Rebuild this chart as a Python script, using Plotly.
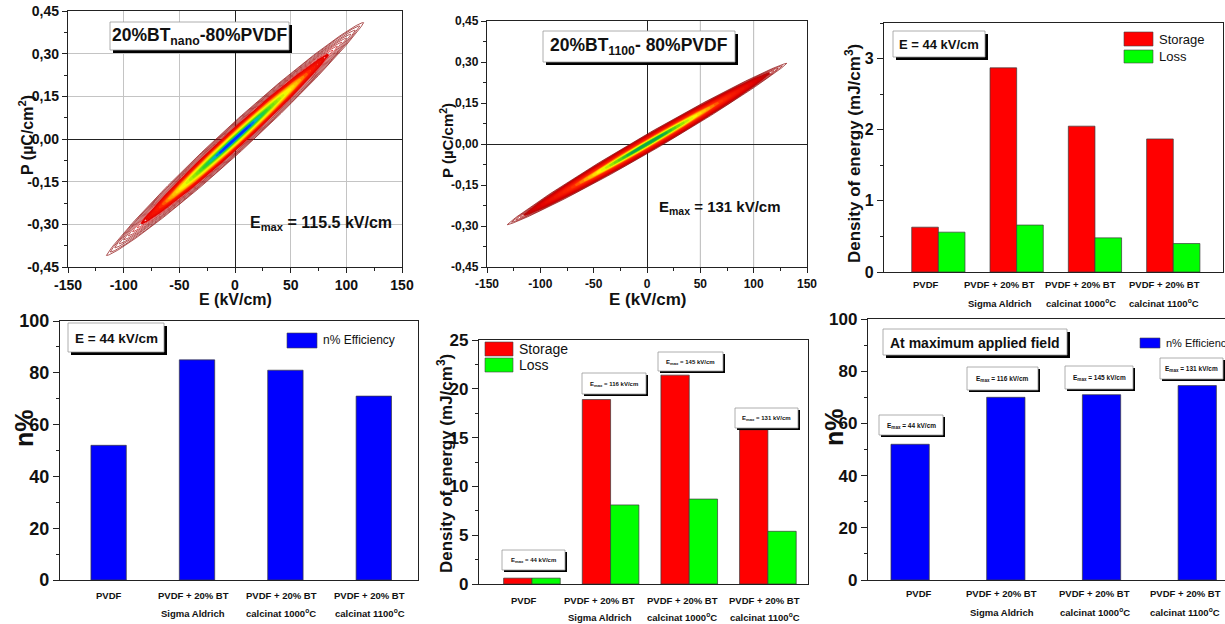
import numpy as np
import plotly.graph_objects as go
from plotly.colors import sample_colorscale

W, H = 1225, 624
FONT = "Liberation Sans"

# ---------------- P-E hysteresis data ----------------
# 20%BTnano-80%PVDF: field amplitude, tip polarization and remanent polarization of each loop
nano_emax = [115.5, 112, 108, 104, 100, 96, 92, 88, 84, 80, 77, 74, 71, 68, 65,
             62, 59, 56, 53, 50, 47, 44, 41, 38, 35, 32, 29, 26, 23, 20, 17, 14, 11]
nano_ptip = [0.409, 0.397, 0.382, 0.368, 0.354, 0.340, 0.326, 0.312, 0.297, 0.283, 0.273,
             0.262, 0.251, 0.241, 0.230, 0.220, 0.209, 0.198, 0.188, 0.177, 0.166, 0.156,
             0.145, 0.135, 0.124, 0.113, 0.103, 0.092, 0.081, 0.071, 0.060, 0.050, 0.039]
nano_pr = [0.0620, 0.0592, 0.0561, 0.0530, 0.0499, 0.0470, 0.0441, 0.0412, 0.0385, 0.0357,
           0.0337, 0.0318, 0.0299, 0.0280, 0.0262, 0.0244, 0.0226, 0.0209, 0.0193, 0.0177,
           0.0161, 0.0146, 0.0131, 0.0117, 0.0103, 0.0090, 0.0078, 0.0066, 0.0055, 0.0045,
           0.0035, 0.0026, 0.0018]

# 20%BT1100-80%PVDF
bt1100_emax = [131, 127, 123, 119, 115, 111, 107, 103, 99, 95, 91, 87, 83, 79, 75,
               71, 67, 63, 59, 55, 51, 47, 43, 39, 35, 31, 27, 23, 19, 15]
bt1100_ptip = [0.295, 0.286, 0.277, 0.268, 0.259, 0.250, 0.241, 0.232, 0.223, 0.214,
               0.205, 0.196, 0.187, 0.178, 0.169, 0.160, 0.151, 0.142, 0.133, 0.124,
               0.115, 0.106, 0.097, 0.088, 0.079, 0.070, 0.061, 0.052, 0.043, 0.034]
bt1100_pr = [0.0360, 0.0344, 0.0328, 0.0312, 0.0296, 0.0281, 0.0266, 0.0251, 0.0237, 0.0222,
             0.0208, 0.0195, 0.0182, 0.0169, 0.0156, 0.0144, 0.0132, 0.0120, 0.0109, 0.0098,
             0.0087, 0.0077, 0.0068, 0.0058, 0.0050, 0.0041, 0.0034, 0.0026, 0.0020, 0.0014]

# ---------------- energy / efficiency data ----------------
categories = [1, 2, 3, 4]
cat_line1 = ["PVDF", "PVDF + 20% BT", "PVDF + 20% BT", "PVDF + 20% BT"]
cat_line2 = ["", "Sigma Aldrich", "calcinat 1000<sup>o</sup>C", "calcinat 1100<sup>o</sup>C"]

storage_44 = [0.63, 2.87, 2.05, 1.87]     # mJ/cm3 at E = 44 kV/cm
loss_44 = [0.56, 0.66, 0.48, 0.40]
eff_44 = [52, 85, 81, 71]                 # %

emax_applied = [44, 116, 145, 131]        # kV/cm
storage_max = [0.6, 18.9, 21.4, 15.8]     # mJ/cm3 at maximum field
loss_max = [0.6, 8.1, 8.7, 5.4]
eff_max = [52, 70, 71, 74.5]


def fx(px):
    return px / W


def fy(py):
    return 1 - py / H


fig = go.Figure()
shapes = []
annotations = []

nano_scale = [[0.0, "#0000ff"], [0.12, "#0040ff"], [0.18, "#00c0c0"], [0.24, "#20d030"],
              [0.34, "#a0e800"], [0.42, "#ffff00"], [0.52, "#ffa000"], [0.60, "#ff1800"],
              [0.74, "#dd0000"], [0.84, "#a01010"], [1.0, "#8b0a0a"]]
bt_scale = [[0.0, "#008080"], [0.14, "#10b040"], [0.25, "#80e000"], [0.35, "#ffff00"],
            [0.45, "#ffa800"], [0.55, "#ff2800"], [0.78, "#e00000"], [0.9, "#b00808"], [1.0, "#8b0a0a"]]


def add_loops(emax_list, ptip_list, pr_list, cscale, xa, ya, thin_from):
    """Lens-shaped P-E loops, drawn from the largest to the smallest field."""
    e0 = emax_list[0]
    t = np.linspace(0, 2 * np.pi, 241)
    fr = [e / e0 for e in emax_list]
    cols = sample_colorscale(cscale, fr)
    for em, pt, pr, f, c in zip(emax_list, ptip_list, pr_list, fr, cols):
        s = np.sin(t)
        e = em * np.cos(t)
        p = pt * np.cos(t) + pr * s * np.abs(s) ** 0.4
        fig.add_trace(go.Scatter(x=e, y=p, mode="lines", xaxis=xa, yaxis=ya,
                                 line=dict(color=c, width=0.7 if f > thin_from else 1.8),
                                 hoverinfo="skip", showlegend=False))


add_loops(nano_emax, nano_ptip, nano_pr, nano_scale, "x", "y", 0.76)
add_loops(bt1100_emax, bt1100_ptip, bt1100_pr, bt_scale, "x2", "y2", 0.9)

RED, GREEN, BLUE = "#ff0000", "#00ff00", "#0000ff"
EDGE = dict(color="#3a3a3a", width=0.7)

# at 44 kV/cm: storage and loss
fig.add_trace(go.Bar(x=categories, y=storage_44, width=0.34, offset=-0.34, marker=dict(color=RED, line=EDGE),
                     xaxis="x3", yaxis="y3", showlegend=False))
fig.add_trace(go.Bar(x=categories, y=loss_44, width=0.34, offset=0, marker=dict(color=GREEN, line=EDGE),
                     xaxis="x3", yaxis="y3", showlegend=False))
# efficiency at 44 kV/cm
fig.add_trace(go.Bar(x=categories, y=eff_44, width=0.4, marker=dict(color=BLUE, line=EDGE),
                     xaxis="x4", yaxis="y4", showlegend=False))
# at maximum field
fig.add_trace(go.Bar(x=categories, y=storage_max, width=0.36, offset=-0.36, marker=dict(color=RED, line=EDGE),
                     xaxis="x5", yaxis="y5", showlegend=False))
fig.add_trace(go.Bar(x=categories, y=loss_max, width=0.36, offset=0, marker=dict(color=GREEN, line=EDGE),
                     xaxis="x5", yaxis="y5", showlegend=False))
fig.add_trace(go.Bar(x=categories, y=eff_max, width=0.4, marker=dict(color=BLUE, line=EDGE),
                     xaxis="x6", yaxis="y6", showlegend=False))

AX = "#222222"


def base_axis(size, **kw):
    d = dict(showline=True, linecolor=AX, linewidth=1.3, mirror=True, ticks="outside",
             ticklen=5, tickwidth=1.2, tickcolor=AX, showgrid=False, zeroline=False, automargin=False,
             tickfont=dict(family=FONT, size=size, color="#111", weight="bold"), fixedrange=True)
    d.update(kw)
    return d


def pe_axes(xdom, ydom, grid, size):
    pv = [-0.45, -0.30, -0.15, 0.0, 0.15, 0.30, 0.45]
    ev = [-150, -100, -50, 0, 50, 100, 150]
    xa = base_axis(size, domain=xdom, range=[-150, 150], tickmode="array", tickvals=ev,
                   ticktext=[str(v) for v in ev], showgrid=grid, gridcolor="#c4c4c4", gridwidth=1,
                   zeroline=True, zerolinecolor=AX, zerolinewidth=1.2,
                   minor=dict(ticks="outside", ticklen=3, tickcolor=AX, tick0=0, dtick=25, showgrid=False))
    ya = base_axis(size, domain=ydom, range=[-0.45, 0.45], tickmode="array", tickvals=pv,
                   ticktext=[("%.2f" % v).replace(".", ",") for v in pv], showgrid=grid,
                   gridcolor="#c4c4c4", gridwidth=1, zeroline=True, zerolinecolor=AX, zerolinewidth=1.2,
                   minor=dict(ticks="outside", ticklen=3, tickcolor=AX, tick0=0, dtick=0.075, showgrid=False))
    return xa, ya


def bar_axes(xdom, ydom, xr, yr, dtick, size):
    xa = base_axis(10, domain=xdom, range=xr, showticklabels=False, ticks="")
    ya = base_axis(size, domain=ydom, range=yr, tick0=0, dtick=dtick, ticklen=6,
                   minor=dict(ticks="outside", ticklen=3, tickcolor=AX, tick0=0, dtick=dtick / 2))
    return xa, ya


x1, y1 = pe_axes([fx(68), fx(402)], [fy(267), fy(11)], True, 14)
x2, y2 = pe_axes([fx(487), fx(807)], [fy(267), fy(21)], False, 12)
x3, y3 = bar_axes([fx(884), fx(1223)], [fy(272), fy(23)], [0.306, 4.635], [0, 3.5], 1, 16)
x4, y4 = bar_axes([fx(60), fx(418)], [fy(580), fy(321)], [0.45, 4.5], [0, 100], 20, 18)
x5, y5 = bar_axes([fx(479), fx(808)], [fy(584), fy(340)], [0.327, 4.51], [0, 25], 5, 17)
x6, y6 = bar_axes([fx(868), fx(1225)], [fy(580), fy(319)], [0.56, 4.29], [0, 100], 20, 17)

for i, (xa, ya) in enumerate([(x1, y1), (x2, y2), (x3, y3), (x4, y4), (x5, y5), (x6, y6)], start=1):
    sfx = "" if i == 1 else str(i)
    xa["anchor"] = "y" + sfx
    ya["anchor"] = "x" + sfx
    fig.layout["xaxis" + sfx] = xa
    fig.layout["yaxis" + sfx] = ya

# light vertical grid lines of the BT1100 loop panel
for gv in [50, 100]:
    shapes.append(dict(type="line", xref="x2", yref="y2", x0=gv, x1=gv, y0=-0.45, y1=0.45,
                       line=dict(color="#b8b8b8", width=1), layer="below"))


def text(px, py, t, size, bold=True, angle=0, anchor="center", color="#111"):
    annotations.append(dict(xref="paper", yref="paper", x=fx(px), y=fy(py), text=t, showarrow=False,
                            xanchor=anchor, yanchor="middle", textangle=angle,
                            font=dict(family=FONT, size=size, color=color,
                                      weight="bold" if bold else "normal")))


def shadow_box(x0, y0, x1, y1, t, size, sh=3, bold=True):
    shapes.append(dict(type="rect", xref="paper", yref="paper", x0=fx(x0 + sh), x1=fx(x1 + sh),
                       y0=fy(y1 + sh), y1=fy(y0 + sh), fillcolor="#000", line=dict(width=0)))
    shapes.append(dict(type="rect", xref="paper", yref="paper", x0=fx(x0), x1=fx(x1),
                       y0=fy(y1), y1=fy(y0), fillcolor="#fff", line=dict(color="#999", width=0.8)))
    text((x0 + x1) / 2, (y0 + y1) / 2 + 0.5, t, size, bold)


def legend_key(x0, y0, x1, y1, color, label, size):
    shapes.append(dict(type="rect", xref="paper", yref="paper", x0=fx(x0), x1=fx(x1),
                       y0=fy(y1), y1=fy(y0), fillcolor=color, line=dict(color="#444", width=0.6)))
    text(x1 + 4, (y0 + y1) / 2, label, size, bold=False, anchor="left")


# --- P-E panels text ---
shadow_box(110, 22, 289, 50, "20%BT<sub>nano</sub>-80%PVDF", 17.5)
text(321, 223, "E<sub>max</sub> = 115.5 kV/cm", 16)
text(26, 135, "P (µC/cm<sup>2</sup>)", 16, angle=-90)
text(235, 299, "E (kV/cm)", 16)

shadow_box(543, 31, 735, 62, "20%BT<sub>1100</sub>- 80%PVDF", 17.5)
text(720, 208, "E<sub>max</sub> = 131 kV/cm", 15)
text(447, 141, "P (µC/cm<sup>2</sup>)", 15, angle=-90)
text(647, 299, "E (kV/cm)", 17)

# --- energy at 44 kV/cm ---
shadow_box(893, 31, 985, 57, "E = 44 kV/cm", 13)
legend_key(1124, 32, 1153, 46, RED, "Storage", 13)
legend_key(1124, 50, 1153, 63, GREEN, "Loss", 13)
text(853, 154, "Density of energy (mJ/cm<sup>3</sup>)", 17, angle=-90)

# --- efficiency at 44 kV/cm ---
shadow_box(68, 323, 164, 352, "E = 44 kV/cm", 13.5)
legend_key(287, 333, 317, 348, BLUE, "n% Efficiency", 12)
text(24, 428, "n%", 25, angle=-90)

# --- energy at maximum field ---
legend_key(485, 342, 513, 356, RED, "Storage", 14)
legend_key(485, 358, 513, 372, GREEN, "Loss", 14)
text(445, 464, "Density of energy (mJ/cm<sup>3</sup>)", 17, angle=-90)
for (bx0, by0, bx1, by1), em in zip([(502, 550, 565, 570), (582, 373, 646, 394),
                                     (658, 352, 723, 371), (735, 408, 798, 428)], emax_applied):
    shadow_box(bx0, by0, bx1, by1, "E<sub>max</sub> = %d kV/cm" % em, 6, sh=2)

# --- efficiency at maximum field ---
shadow_box(883, 329, 1067, 355, "At maximum applied field", 14)
legend_key(1140, 338, 1160, 348, BLUE, "n% Efficiency", 11)
text(834, 427, "n%", 25, angle=-90)
for (bx0, by0, bx1, by1), em in zip([(879, 415, 943, 435), (967, 367, 1038, 390),
                                     (1065, 366, 1133, 389), (1160, 358, 1223, 379)], emax_applied):
    shadow_box(bx0, by0, bx1, by1, "E<sub>max</sub> = %d kV/cm" % em, 6.5, sh=2)

# --- category labels under the bar panels ---
for xa, shifts, yl1, yl2 in [("x3", [-12, -17, -14, -9], 285, 303),
                             ("x4", [0, -4, -4, -4], 595, 613),
                             ("x5", [-8, -11, -7, -3], 600, 617),
                             ("x6", [9, -4, -7, -12], 593, 612)]:
    for c, sh, l1, l2 in zip(categories, shifts, cat_line1, cat_line2):
        for yy, tt in [(yl1, l1), (yl2, l2)]:
            if tt:
                annotations.append(dict(xref=xa, yref="paper", x=c, xshift=sh, y=fy(yy), text=tt,
                                        showarrow=False, xanchor="center", yanchor="middle",
                                        font=dict(family=FONT, size=9.5, color="#111", weight="bold")))

fig.update_layout(width=W, height=H, margin=dict(l=0, r=0, t=0, b=0, autoexpand=False),
                  paper_bgcolor="white", plot_bgcolor="white", showlegend=False, barmode="overlay",
                  shapes=shapes, annotations=annotations)
fig.write_html("out.html")
